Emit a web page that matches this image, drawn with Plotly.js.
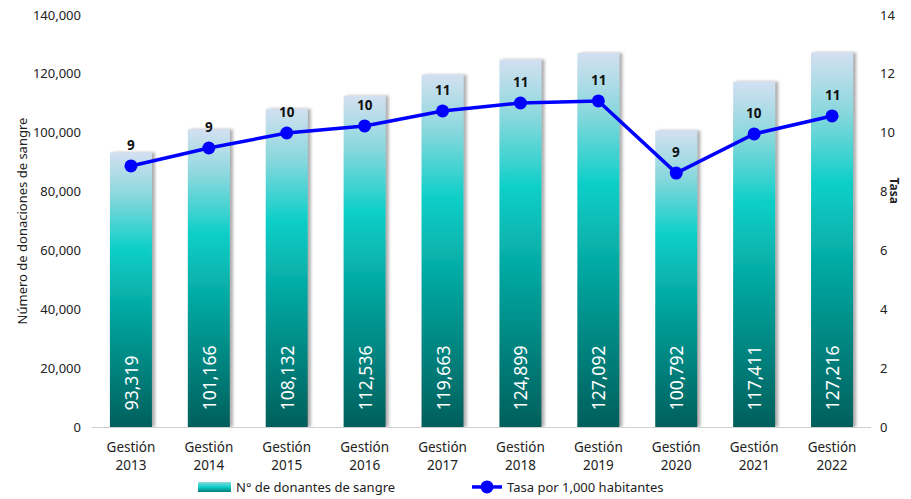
<!DOCTYPE html>
<html><head><meta charset="utf-8">
<script src="https://cdn.plot.ly/plotly-3.0.1.min.js"></script>
<style>html,body{margin:0;padding:0;background:#fff}</style>
</head><body>
<div id="chart" style="width:911px;height:499px"></div>
<script>
const categories = ["Gestión<br>2013","Gestión<br>2014","Gestión<br>2015","Gestión<br>2016","Gestión<br>2017","Gestión<br>2018","Gestión<br>2019","Gestión<br>2020","Gestión<br>2021","Gestión<br>2022"];
const donantes = [93319,101166,108132,112536,119663,124899,127092,100792,117411,127216];
const tasa = [8.87,9.48,9.99,10.23,10.74,11.01,11.08,8.63,9.96,10.57];
const tasaLabels = ["9","9","10","10","11","11","11","9","10","11"];
const leftTicks = [0,20000,40000,60000,80000,100000,120000,140000];
const rightTicks = [0,2,4,6,8,10,12,14];

const FONT = "Noto Sans, sans-serif";
const bars = {
  type:"bar", x:categories, y:donantes, name:"N° de donantes de sangre",
  marker:{color:"#0ccfc8", line:{width:0}}, width:0.54,
  text:donantes.map(v=>"\u00a0\u00a0\u00a0"+v.toLocaleString("en-US")), textposition:"inside",
  insidetextanchor:"start", textangle:-90, constraintext:"none",
  textfont:{color:"#ffffff", size:17.5, family:FONT}, hoverinfo:"skip"
};
const line = {
  type:"scatter", mode:"lines+markers", x:categories, y:tasa, yaxis:"y2",
  name:"Tasa por 1,000 habitantes",
  line:{color:"#0000ff", width:3.5}, marker:{color:"#0000ff", size:13}
};
const annotations = categories.map((c,i)=>({
  x:c, y:tasa[i], xref:"x", yref:"y2", yshift:21, showarrow:false,
  text:"<b>"+tasaLabels[i]+"</b>", font:{size:13.5, color:"#111", family:FONT}
}));
annotations.push({text:"<b>Tasa</b>", xref:"x domain", yref:"y domain", x:1, xshift:34, y:0.575, textangle:90, showarrow:false, font:{size:12, color:"#222"}});
const layout = {
  width:911, height:499, margin:{l:92,r:40,t:15,b:72, autoexpand:false},
  paper_bgcolor:"#fff", plot_bgcolor:"#fff",
  font:{family:FONT, size:13, color:"#222"},
  showlegend:true,
  legend:{orientation:"h", xref:"container", yref:"container", x:(238-42)/911, xanchor:"left", y:12/499, yanchor:"middle",
    font:{size:13, color:"#222"}, entrywidth:226, entrywidthmode:"pixels", tracegroupgap:0, bgcolor:"rgba(0,0,0,0)"},
  xaxis:{type:"category", range:[-0.5, categories.length-0.5], automargin:false, showline:true, linecolor:"#d0d0d0", linewidth:1, ticks:"", ticklabelstandoff:8, tickfont:{size:13.5, color:"#222"}, showgrid:false},
  yaxis:{range:[0,140000], automargin:false, tickvals:leftTicks, ticktext:leftTicks.map(v=>v.toLocaleString("en-US")), showgrid:false, zeroline:false, showline:false, ticks:"", ticklabelstandoff:10,
    title:{text:"Número de donaciones de sangre", font:{size:13, color:"#222"}}, tickfont:{size:13, color:"#222"}},
  yaxis2:{range:[0,14], automargin:false, overlaying:"y", side:"right", tickvals:rightTicks, showgrid:false, zeroline:false, showline:false, ticks:"", ticklabelstandoff:8, tickfont:{size:13, color:"#222"}},
  annotations:annotations
};
Plotly.newPlot("chart",[bars,line],layout,{displayModeBar:false, staticPlot:true}).then(gd=>{
  const svg = gd.querySelector("svg.main-svg");
  const ns = "http://www.w3.org/2000/svg";
  let defs = svg.querySelector("defs");
  const grad = document.createElementNS(ns,"linearGradient");
  grad.setAttribute("id","barGrad"); grad.setAttribute("x1","0"); grad.setAttribute("y1","0"); grad.setAttribute("x2","0"); grad.setAttribute("y2","1");
  [["0","#d3e0f1"],["0.15","#8ed8de"],["0.35","#0dcfc8"],["0.62","#03a09a"],["1","#015f5c"]].forEach(([o,c])=>{
    const s=document.createElementNS(ns,"stop"); s.setAttribute("offset",o); s.setAttribute("stop-color",c); grad.appendChild(s);
  });
  defs.appendChild(grad);
  const grad2 = document.createElementNS(ns,"linearGradient");
  grad2.setAttribute("id","legGrad"); grad2.setAttribute("x1","0"); grad2.setAttribute("y1","0"); grad2.setAttribute("x2","0"); grad2.setAttribute("y2","1");
  [["0","#8ed8de"],["0.5","#0dcfc8"],["1","#027d78"]].forEach(([o,c])=>{
    const s=document.createElementNS(ns,"stop"); s.setAttribute("offset",o); s.setAttribute("stop-color",c); grad2.appendChild(s);
  });
  defs.appendChild(grad2);
  const filt = document.createElementNS(ns,"filter");
  filt.setAttribute("id","barShadow"); filt.setAttribute("x","-20%"); filt.setAttribute("y","-5%"); filt.setAttribute("width","150%"); filt.setAttribute("height","110%");
  filt.innerHTML = '<feDropShadow dx="3" dy="0" stdDeviation="1.5" flood-color="#777" flood-opacity="0.6"/>';
  defs.appendChild(filt);
  gd.querySelectorAll(".barlayer .point path").forEach(p=>{
    p.style.fill="url(#barGrad)"; p.setAttribute("filter","url(#barShadow)");
  });
  gd.querySelectorAll(".legend .legendpoints path.legendundefined").forEach(p=>{
    p.setAttribute("d","M-18,-5h33v10h-33z"); p.style.fill="url(#legGrad)"; p.style.stroke="none";
  });
});
</script>
</body></html>
